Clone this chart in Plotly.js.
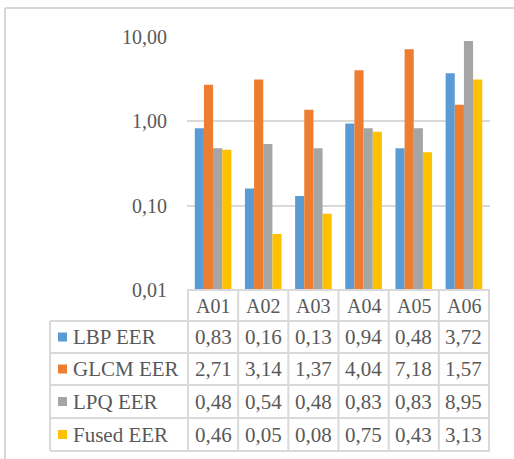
<!DOCTYPE html>
<html>
<head>
<meta charset="utf-8">
<script src="https://cdn.plot.ly/plotly-3.0.1.min.js"></script>
<style>
  html, body { margin: 0; padding: 0; background: #fff; }
</style>
</head>
<body>
<div id="chart"></div>
<script>
const categories = ['A01', 'A02', 'A03', 'A04', 'A05', 'A06'];
const seriesNames = ['LBP EER', 'GLCM EER', 'LPQ EER', 'Fused EER'];
const lbp = [0.83, 0.16, 0.13, 0.94, 0.48, 3.72];
const glcm = [2.71, 3.14, 1.37, 4.04, 7.18, 1.57];
const lpq = [0.48, 0.54, 0.48, 0.83, 0.83, 8.95];
const fused = [0.46, 0.046, 0.08, 0.75, 0.43, 3.13];
const yTicks = [0.01, 0.1, 1, 10];
const yTickText = ['0,01', '0,10', '1,00', '10,00'];

const colors = ['#5B9BD5', '#ED7D31', '#A5A5A5', '#FFC000'];
const textColor = '#595959';
const lineColor = '#D9D9D9';
const fontFamily = 'Liberation Serif, serif';

const W = 514, H = 459;
const M = { l: 187, r: 24, t: 37, b: 169 };
const plotW = W - M.l - M.r;
const plotH = H - M.t - M.b;
// pixel -> paper helpers for the table drawn under the plot
const px2x = px => (px - M.l) / plotW;
const px2y = py => (H - M.b - py) / plotH;

const fmt = v => v.toFixed(2).replace('.', ',');
const allSeries = [lbp, glcm, lpq, fused];

const traces = allSeries.map((vals, i) => ({
    type: 'bar',
    x: categories,
    y: vals,
    name: seriesNames[i],
    marker: { color: colors[i] },
    hoverinfo: 'skip'
}));

// table rows: header at 290-320, then 4 rows of ~32.5px
const rowEdges = [290, 321, 353, 385, 418, 451];
const shapes = [];
const annotations = [];

// horizontal table lines
rowEdges.forEach((py, i) => {
    shapes.push({
        type: 'line', xref: 'paper', yref: 'paper',
        x0: i === 0 ? 0 : px2x(50), x1: 1,
        y0: px2y(py), y1: px2y(py),
        line: { color: lineColor, width: 2 }
    });
});
// vertical lines at category edges
for (let i = 0; i <= categories.length; i++) {
    shapes.push({
        type: 'line', xref: 'x', yref: 'paper',
        x0: i - 0.5, x1: i - 0.5,
        y0: px2y(290), y1: px2y(451),
        line: { color: lineColor, width: 2 }
    });
}
// left edge of label column
shapes.push({
    type: 'line', xref: 'paper', yref: 'paper',
    x0: px2x(50), x1: px2x(50),
    y0: px2y(321), y1: px2y(451),
    line: { color: lineColor, width: 2 }
});
// chart outer border (top + left visible)
shapes.push({
    type: 'line', xref: 'paper', yref: 'paper',
    x0: px2x(5), x1: px2x(W + 5), y0: px2y(8), y1: px2y(8),
    line: { color: lineColor, width: 2 }
});
shapes.push({
    type: 'line', xref: 'paper', yref: 'paper',
    x0: px2x(5), x1: px2x(5), y0: px2y(8), y1: px2y(H + 5),
    line: { color: lineColor, width: 2 }
});

// header: category names
categories.forEach(c => {
    annotations.push({
        x: c, xref: 'x', y: px2y(305.5), yref: 'paper',
        text: c, showarrow: false, xanchor: 'center', yanchor: 'middle',
        font: { family: fontFamily, size: 20, color: textColor }
    });
});

// data rows
allSeries.forEach((vals, r) => {
    const cy = (rowEdges[r + 1] + rowEdges[r + 2]) / 2;
    shapes.push({
        type: 'rect', xref: 'paper', yref: 'paper',
        x0: px2x(58), x1: px2x(67), y0: px2y(cy - 4.5), y1: px2y(cy + 4.5),
        fillcolor: colors[r], line: { width: 0 }
    });
    annotations.push({
        x: px2x(71), xref: 'paper', y: px2y(cy), yref: 'paper',
        text: seriesNames[r], showarrow: false, xanchor: 'left', yanchor: 'middle',
        font: { family: fontFamily, size: 21, color: textColor }
    });
    vals.forEach((v, i) => {
        annotations.push({
            x: categories[i], xref: 'x', y: px2y(cy), yref: 'paper',
            text: fmt(v), showarrow: false, xanchor: 'center', yanchor: 'middle',
            font: { family: fontFamily, size: 21, color: textColor }
        });
    });
});

const layout = {
    width: W, height: H,
    margin: M,
    paper_bgcolor: '#fff', plot_bgcolor: '#fff',
    showlegend: false,
    barmode: 'group',
    bargap: 0.27,
    bargroupgap: 0,
    xaxis: {
        type: 'category',
        showticklabels: false,
        showgrid: false,
        zeroline: false,
        showline: false,
        ticks: ''
    },
    yaxis: {
        type: 'log',
        range: [-2, 1],
        tickvals: yTicks,
        ticktext: yTickText,
        showgrid: true,
        gridcolor: lineColor,
        gridwidth: 2,
        zeroline: false,
        showline: false,
        ticks: '',
        ticklabelstandoff: 19,
        tickfont: { family: fontFamily, size: 20, color: textColor }
    },
    shapes: shapes,
    annotations: annotations
};

Plotly.newPlot('chart', traces, layout, { displayModeBar: false });
</script>
</body>
</html>
